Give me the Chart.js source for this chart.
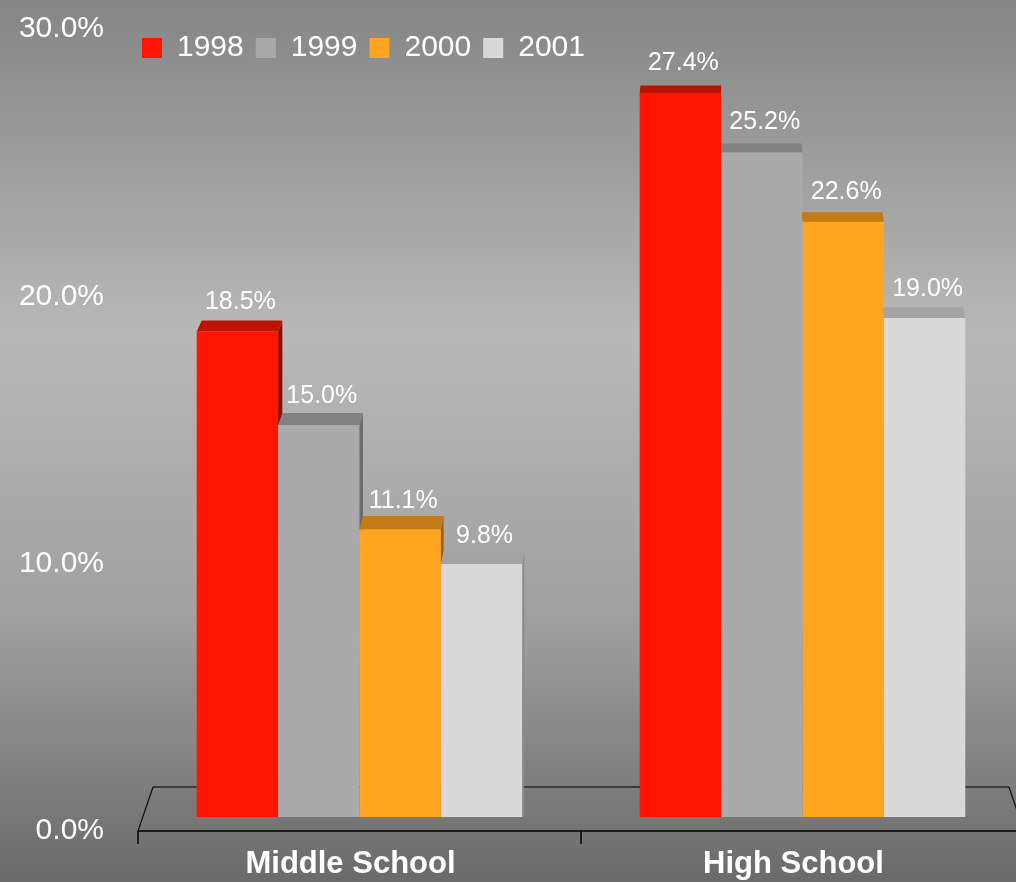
<!DOCTYPE html>
<html><head><meta charset="utf-8">
<script src="https://cdn.jsdelivr.net/npm/chart.js@4.4.0/dist/chart.umd.min.js"></script>
<style>html,body{margin:0;padding:0;background:#808080;overflow:hidden}</style>
</head><body>
<canvas id="c" width="1016" height="882"></canvas>
<script>
const categories = ['Middle School', 'High School'];
const years = ['1998', '1999', '2000', '2001'];
const v1998 = [18.5, 27.4];
const v1999 = [15.0, 25.2];
const v2000 = [11.1, 22.6];
const v2001 = [9.8, 19.0];
const yTickValues = [0, 10, 20, 30];

const frontColors = ['#ff1500', '#aaaaaa', '#ffa520', '#d9d9d9'];
const capColors = ['#bd1200', '#818181', '#c17c18', '#a4a4a4'];
const sideColors = ['#8e0c00', '#6c6c6c', '#9a6010', '#8c8c8c'];
const FONT = '"Liberation Sans", Arial, sans-serif';

const seriesValues = [v1998, v1999, v2000, v2001];

const layoutPlugin = {
  id: 'layoutTweak',
  afterLayout(chart) {
    // legend row sits over the top of the plot, as in the original
    const lg = chart.legend;
    if (lg) { lg.left = 130; lg.top = 21; lg.height = 64; lg.bottom = 85; }
    // the category axis runs slightly past the right edge of the picture
    const xs = chart.scales.x;
    xs.right = xs.left + 886;
    xs.width = 886;
    xs.configure();
  },
  beforeDraw(chart) {
    const ctx = chart.ctx;
    const g = ctx.createLinearGradient(0, 0, 0, chart.height);
    g.addColorStop(0, '#858585');
    g.addColorStop(0.38, '#b8b8b8');
    g.addColorStop(0.7, '#a0a0a0');
    g.addColorStop(0.9, '#7c7c7c');
    g.addColorStop(1, '#6a6a6a');
    ctx.save();
    ctx.fillStyle = g;
    ctx.fillRect(0, 0, chart.width, chart.height);
    ctx.restore();
  }
};

const floorPlugin = {
  id: 'floor',
  beforeDatasetsDraw(chart) {
    const ctx = chart.ctx;
    const xs = chart.scales.x;
    const left = xs.left, right = xs.right;
    const y0 = chart.scales.y.getPixelForValue(0);
    const front = y0 + 5, back = y0 - 39;
    const catW = (right - left) / categories.length;
    ctx.save();
    ctx.strokeStyle = '#3c3c3c';
    ctx.lineWidth = 2;
    ctx.beginPath();
    ctx.moveTo(left + 15, back);
    ctx.lineTo(right - 15, back);
    ctx.stroke();
    ctx.strokeStyle = '#111';
    ctx.lineWidth = 1.2;
    ctx.beginPath();
    ctx.moveTo(left, front);
    ctx.lineTo(left + 15, back);
    ctx.moveTo(right - 15, back);
    ctx.lineTo(right, front);
    ctx.stroke();
    ctx.strokeStyle = '#000';
    ctx.lineWidth = 1.5;
    ctx.beginPath();
    ctx.moveTo(left, front);
    ctx.lineTo(right, front);
    for (let i = 0; i <= categories.length; i++) {
      const x = left + i * catW;
      ctx.moveTo(x, front);
      ctx.lineTo(x, front + 13);
    }
    ctx.stroke();
    ctx.restore();
  }
};

const capsPlugin = {
  id: 'caps',
  afterDatasetsDraw(chart) {
    const ctx = chart.ctx;
    const y0 = chart.scales.y.getPixelForValue(0);
    const base = y0 - 9;
    const vx = 720, kx = 0.0096;
    ctx.save();
    for (let j = 0; j < categories.length; j++) {
      const bars = seriesValues.map((_, i) => chart.getDatasetMeta(i).data[j].getProps(['x', 'y', 'width'], true));
      for (let i = 0; i < bars.length; i++) {
        const b = bars[i];
        const L = b.x - b.width / 2, R = b.x + b.width / 2, T = b.y;
        const dy = 7 + 0.012 * T;
        const L2 = L + (vx - L) * kx, R2 = R + (vx - R) * kx;
        if (R2 > R + 0.3) {
          let end = base;
          if (i < bars.length - 1) end = Math.max(T, Math.min(base, bars[i + 1].y));
          ctx.fillStyle = sideColors[i];
          ctx.beginPath();
          ctx.moveTo(R, T);
          ctx.lineTo(R2, T - dy);
          ctx.lineTo(R2, end);
          ctx.lineTo(R, end);
          ctx.closePath();
          ctx.fill();
        }
        ctx.fillStyle = capColors[i];
        ctx.beginPath();
        ctx.moveTo(L, T);
        ctx.lineTo(R, T);
        ctx.lineTo(R2, T - dy);
        ctx.lineTo(L2, T - dy);
        ctx.closePath();
        ctx.fill();
        const capTop = T - dy;
        const off = 14 + (550 - capTop) * 0.017;
        ctx.fillStyle = '#ffffff';
        ctx.font = '25px ' + FONT;
        ctx.textAlign = 'center';
        ctx.textBaseline = 'middle';
        ctx.fillText(seriesValues[i][j].toFixed(1) + '%', b.x + 3, capTop - off);
      }
    }
    ctx.restore();
  }
};

const datasets = years.map((yr, i) => ({
  label: yr,
  data: seriesValues[i],
  backgroundColor: frontColors[i],
  borderWidth: 0,
  barPercentage: 1.0,
  categoryPercentage: 0.735,
  clip: { left: false, top: false, right: false, bottom: -9 }
}));

new Chart(document.getElementById('c'), {
  type: 'bar',
  data: { labels: categories, datasets },
  options: {
    responsive: false,
    animation: false,
    events: [],
    layout: { padding: { left: 18, right: 0, top: 23, bottom: 2 } },
    plugins: {
      tooltip: { enabled: false },
      legend: {
        position: 'top',
        align: 'start',
        fullSize: false,
        maxHeight: 1,
        labels: {
          boxWidth: 20,
          boxHeight: 20,
          padding: 12,
          color: '#ffffff',
          font: { family: FONT, size: 30 }
        }
      }
    },
    scales: {
      x: {
        grid: { display: false, drawTicks: false },
        border: { display: false },
        afterFit(scale) { scale.height = 54; },
        ticks: {
          color: '#ffffff',
          padding: 23,
          labelOffset: -9,
          font: { family: FONT, size: 31, weight: 'bold', lineHeight: 1 }
        }
      },
      y: {
        min: 0,
        max: 30,
        grid: { display: false, drawTicks: false },
        border: { display: false },
        afterBuildTicks(scale) { scale.ticks = yTickValues.map(v => ({ value: v })); },
        afterFit(scale) { scale.width = 120; scale.paddingTop = 0; scale.paddingBottom = 0; },
        ticks: {
          color: '#ffffff',
          padding: 34,
          labelOffset: 5,
          font: { family: FONT, size: 30 },
          callback: v => Number(v).toFixed(1) + '%'
        }
      }
    }
  },
  plugins: [layoutPlugin, floorPlugin, capsPlugin]
});
</script>
</body></html>
